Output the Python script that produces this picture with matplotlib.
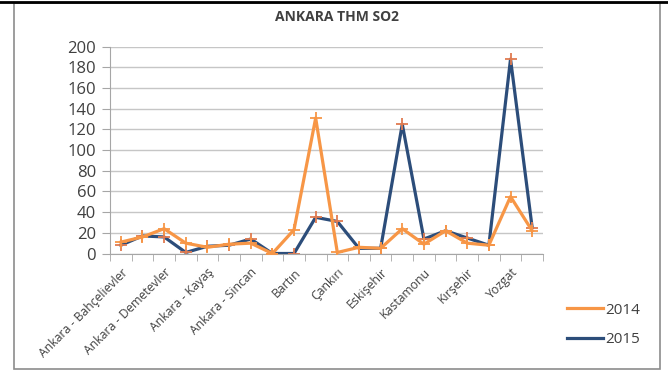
import numpy as np
import matplotlib.pyplot as plt
from matplotlib.lines import Line2D
from matplotlib.patches import Rectangle

plt.rcParams['font.family'] = ['Open Sans', 'DejaVu Sans']

# stations: only every other one gets a label on the axis
labels = ['Ankara - Bahçelievler', 'Ankara - Demetevler', 'Ankara - Kayaş',
          'Ankara - Sincan', 'Bartın', 'Çankırı', 'Eskişehir', 'Kastamonu',
          'Kırşehir', 'Yozgat']
so2_2014 = [11, 16, 24, 10, 6, 9, 10, 0, 23, 131, 1, 6, 5, 24, 9, 22, 10, 8, 55, 22]
so2_2015 = [8, 17, 16, 1, 7, 8, 14, 0, 0, 35, 31, 5, 5, 125, 14, 22, 15, 8, 188, 25]

x = np.arange(len(so2_2014))

fig = plt.figure(figsize=(6.68, 3.72), dpi=100)

# chart frame
fig.add_artist(Rectangle((14 / 668, 3 / 372), 646 / 668, 366 / 372,
                         transform=fig.transFigure, fill=False,
                         edgecolor='#8c8c8c', linewidth=1.2))
fig.add_artist(Line2D([0, 1], [1 - 1.5 / 372] * 2, transform=fig.transFigure,
                      color='black', linewidth=2))

ax = fig.add_axes([110 / 668, 1 - 253.5 / 372, 433 / 668, 206.8 / 372])

orange = '#F79646'
blue = '#2C4D7A'
ax.plot(x, so2_2014, color=orange, linewidth=2.3, marker='+', ms=9, mew=1.3,
        label='2014', zorder=3)
ax.plot(x, so2_2015, color=blue, linewidth=2.3, marker='+', ms=9, mew=1.3,
        markeredgecolor='#E07B50', label='2015', zorder=2)

ax.set_xlim(-0.5, len(x) - 0.5)
ax.set_ylim(0, 200)
ax.set_yticks(range(0, 201, 20))
ax.yaxis.grid(True, color='#c6c6c6', linewidth=1)
ax.set_axisbelow(True)

ax.set_xticks(x[::2])
ax.set_xticklabels(labels, rotation=45, ha='right', rotation_mode='anchor',
                   fontsize=8.8, color='#404040')
ax.set_xticks(np.arange(-0.5, len(x), 1), minor=True)
ax.tick_params(axis='x', which='major', length=0, pad=9)
ax.tick_params(axis='x', which='minor', length=5, color='#a6a6a6', direction='out')
ax.tick_params(axis='y', length=6, color='#a6a6a6', labelsize=12,
               labelcolor='#404040', pad=4)

for side in ['top', 'right']:
    ax.spines[side].set_visible(False)
for side in ['left', 'bottom']:
    ax.spines[side].set_color('#a6a6a6')

fig.text(337 / 668, 1 - 17 / 372, 'ANKARA THM SO2', ha='center', va='center',
         fontsize=10, fontweight='bold', color='#404040')

handles = [Line2D([], [], color=orange, linewidth=2.3),
           Line2D([], [], color=blue, linewidth=2.3)]
fig.legend(handles, ['2014', '2015'], loc='center left',
           bbox_to_anchor=(553 / 668, 1 - 325 / 372), frameon=False,
           fontsize=11, handlelength=2.4, handletextpad=0.1,
           labelspacing=0.95, labelcolor='#404040')

fig.savefig('out.png', dpi=100)
